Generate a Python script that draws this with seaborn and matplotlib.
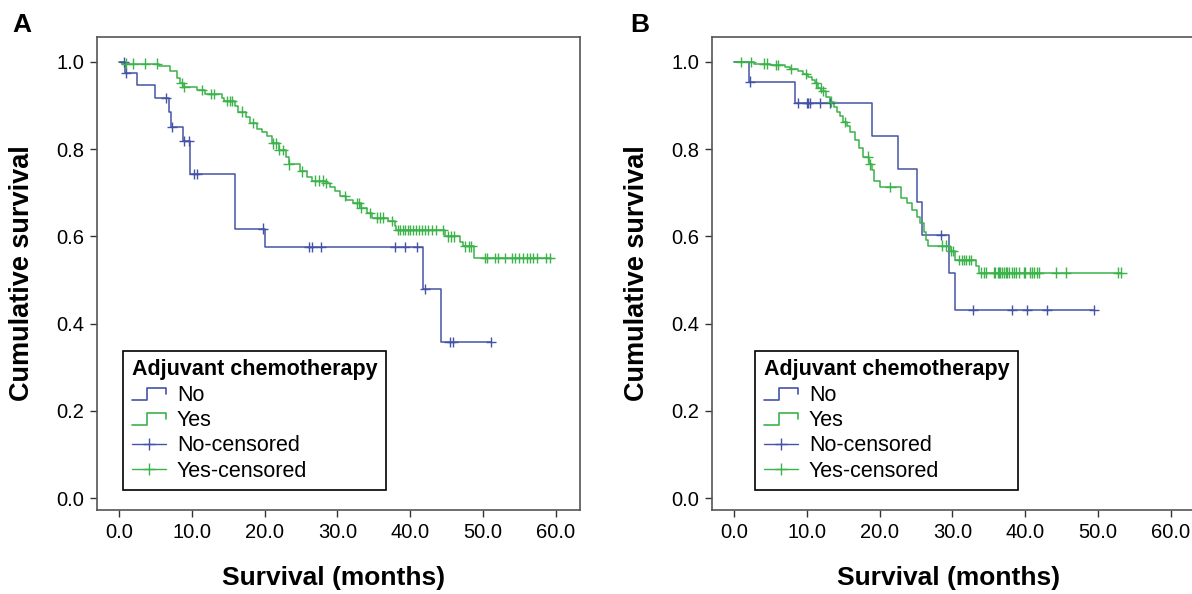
import matplotlib
matplotlib.use("Agg")

import numpy as np
import pandas as pd
import matplotlib.pyplot as plt
import seaborn as sns
from matplotlib.lines import Line2D
from matplotlib.legend_handler import HandlerBase

sns.set_style("ticks")
plt.rcParams["font.family"] = ["Liberation Sans", "DejaVu Sans"]
plt.rcParams["text.color"] = "black"
plt.rcParams["axes.labelcolor"] = "black"

# ---- panel A: event times (months) and survival after each event ----
a_no_times = [0.8, 2.5, 4.9, 6.9, 7.2, 8.8, 9.8, 16.0, 20.0, 41.7, 44.2]
a_no_surv = [0.975, 0.947, 0.917, 0.884, 0.851, 0.818, 0.743, 0.618, 0.575, 0.479, 0.358]
a_no_cens = [0.7, 1.0, 6.5, 7.3, 8.9, 9.6, 10.3, 10.7, 19.8, 26.1, 26.5, 27.7,
             37.9, 39.3, 40.9, 42.0, 45.4, 45.8, 51.1]

a_yes_times = [0.5, 5.5, 7.0, 8.0, 8.4, 8.8, 10.7, 11.8, 14.1, 14.5, 15.9, 16.4,
               17.5, 18.0, 18.9, 19.6, 20.3, 21.0, 22.0, 23.0, 23.3, 24.9, 25.8,
               26.5, 28.5, 29.0, 29.7, 30.4, 31.2, 32.2, 33.3, 34.0, 34.7, 36.9,
               37.9, 38.1, 44.8, 46.8, 47.3, 48.7]
a_yes_surv = [0.996, 0.991, 0.978, 0.963, 0.951, 0.942, 0.935, 0.927, 0.917, 0.911,
              0.899, 0.886, 0.873, 0.860, 0.846, 0.840, 0.829, 0.813, 0.798, 0.783,
              0.765, 0.749, 0.737, 0.728, 0.722, 0.714, 0.703, 0.693, 0.683, 0.676,
              0.666, 0.653, 0.643, 0.636, 0.623, 0.615, 0.600, 0.588, 0.577, 0.550]
a_yes_cens = [1.0, 2.0, 3.6, 5.2, 8.6, 9.0, 11.4, 12.7, 13.0, 14.8, 15.2, 15.5, 16.9,
              18.4, 21.2, 21.6, 22.0, 22.5, 23.3, 25.1, 26.9, 27.5, 28.0, 28.5, 31.0,
              32.7, 33.0, 33.3, 34.5, 35.4, 35.8, 36.3, 37.5, 38.3, 38.6, 39.0, 39.3,
              39.7, 40.0, 40.4, 40.8, 41.2, 41.6, 42.0, 42.5, 43.0, 43.6, 44.5, 45.2,
              45.6, 46.0, 47.5, 48.0, 48.4, 50.3, 50.5, 51.6, 52.1, 53.0, 53.9, 54.4,
              54.9, 55.5, 56.0, 56.5, 56.9, 57.4, 58.7, 59.2]

# ---- panel B ----
b_no_times = [2.1, 8.4, 18.9, 22.5, 25.1, 25.8, 29.5, 30.3]
b_no_surv = [0.955, 0.905, 0.830, 0.755, 0.680, 0.603, 0.517, 0.431]
b_no_cens = [2.2, 8.8, 10.0, 10.2, 10.4, 11.8, 13.2, 28.4, 32.8, 38.2, 40.2, 43.0, 49.4]

b_yes_times = [2.8, 4.9, 7.0, 7.7, 8.8, 9.5, 10.2, 10.7, 11.1, 11.6, 12.0, 12.7,
               13.2, 13.7, 14.1, 14.6, 15.0, 15.5, 16.0, 16.6, 17.2, 17.7, 18.6,
               18.9, 19.3, 20.0, 23.0, 23.8, 24.5, 25.1, 25.6, 26.1, 26.4, 26.7,
               29.7, 30.4, 33.2, 33.7]
b_yes_surv = [0.996, 0.993, 0.988, 0.983, 0.978, 0.972, 0.966, 0.959, 0.951, 0.940,
              0.933, 0.920, 0.909, 0.897, 0.886, 0.875, 0.863, 0.852, 0.840, 0.821,
              0.802, 0.783, 0.765, 0.752, 0.726, 0.713, 0.687, 0.676, 0.661, 0.645,
              0.630, 0.611, 0.592, 0.579, 0.566, 0.546, 0.532, 0.517]
b_yes_cens = [1.0, 2.4, 4.2, 4.5, 5.8, 6.1, 7.8, 9.9, 11.3, 11.9, 12.3, 13.4, 15.3,
              18.4, 18.7, 21.5, 28.6, 29.1, 29.8, 30.1, 30.9, 31.3, 31.6, 31.9, 32.3,
              32.6, 33.9, 34.3, 34.6, 35.7, 35.9, 36.2, 36.4, 36.6, 36.8, 37.1, 37.3,
              37.5, 37.8, 38.2, 38.4, 38.7, 39.1, 39.8, 40.0, 40.7, 40.9, 41.2, 41.6,
              41.9, 44.2, 45.6, 52.7, 53.2]

groups = ["No", "Yes"]
colors = {"No": "#4553a6", "Yes": "#3cb24a"}
x_ticks = [0, 10, 20, 30, 40, 50, 60]
y_ticks = [0.0, 0.2, 0.4, 0.6, 0.8, 1.0]


def km_frames(curves):
    lines, marks = [], []
    for g, (times, surv, cens) in curves.items():
        end = max(max(cens), max(times))
        t = np.r_[0.0, times, end]
        s = np.r_[1.0, surv, surv[-1]]
        lines.append(pd.DataFrame({"month": t, "survival": s, "group": g}))
        idx = np.searchsorted(times, cens, side="right")
        cs = np.r_[1.0, surv][idx]
        marks.append(pd.DataFrame({"month": cens, "survival": cs, "group": g}))
    return pd.concat(lines, ignore_index=True), pd.concat(marks, ignore_index=True)


class StepHandler(HandlerBase):
    def create_artists(self, legend, orig_handle, xdescent, ydescent, width, height, fontsize, trans):
        x0, y0 = -xdescent, -ydescent
        xs = [x0, x0 + 0.45 * width, x0 + 0.45 * width, x0 + width, x0 + width]
        ys = [y0 + 0.05 * height, y0 + 0.05 * height, y0 + 0.85 * height,
              y0 + 0.85 * height, y0 + 0.45 * height]
        ln = Line2D(xs, ys, color=orig_handle.get_color(), lw=1.2, transform=trans)
        return [ln]


def draw_panel(ax, curves, legend_x):
    lines, marks = km_frames(curves)
    sns.lineplot(data=lines, x="month", y="survival", hue="group", palette=colors,
                 drawstyle="steps-post", estimator=None, sort=False, lw=1.1,
                 legend=False, ax=ax)
    sns.scatterplot(data=marks, x="month", y="survival", hue="group", palette=colors,
                    marker="+", s=55, linewidth=1.0, legend=False, ax=ax, zorder=3)
    ax.set_xlim(-3.0, 63.3)
    ax.set_ylim(-0.027, 1.057)
    ax.set_xticks(x_ticks)
    ax.set_xticklabels([f"{v:.1f}" for v in x_ticks])
    ax.set_yticks(y_ticks)
    ax.set_yticklabels([f"{v:.1f}" for v in y_ticks])
    ax.tick_params(axis="both", labelsize=14.5, length=5, width=1, pad=4, colors="#333333",
                   labelcolor="black")
    for sp in ax.spines.values():
        sp.set_visible(True)
        sp.set_color("#555555")
        sp.set_linewidth(1.2)
    ax.set_xlabel("Survival (months)", fontsize=19, fontweight="bold")
    ax.set_ylabel("Cumulative survival", fontsize=19.5, fontweight="bold")
    ax.xaxis.set_label_coords(0.49, -0.118)
    ax.yaxis.set_label_coords(-0.128, 0.5)

    handles = [Line2D([], [], color=colors["No"]), Line2D([], [], color=colors["Yes"]),
               Line2D([], [], color=colors["No"], marker="+", markersize=9, lw=1),
               Line2D([], [], color=colors["Yes"], marker="+", markersize=9, lw=1)]
    labels = ["No", "Yes", "No-censored", "Yes-censored"]
    leg = ax.legend(handles, labels, title="Adjuvant chemotherapy",
                    handler_map={handles[0]: StepHandler(), handles[1]: StepHandler()},
                    loc="lower left", bbox_to_anchor=(legend_x, 0.042), borderaxespad=0,
                    fontsize=15.5, title_fontproperties={"weight": "bold", "size": 15.5},
                    frameon=True, fancybox=False, edgecolor="black", framealpha=1,
                    handlelength=1.6, handletextpad=0.5, labelspacing=0.2,
                    borderpad=0.4, alignment="left")
    leg.get_frame().set_linewidth(1.2)


fig = plt.figure(figsize=(11.92, 5.94), dpi=100)
ax_a = fig.add_axes([97 / 1192, 84 / 594, 483 / 1192, 473 / 594])
ax_b = fig.add_axes([712 / 1192, 84 / 594, 483 / 1192, 473 / 594])

draw_panel(ax_a, {"No": (a_no_times, a_no_surv, a_no_cens),
                  "Yes": (a_yes_times, a_yes_surv, a_yes_cens)}, 0.054)
draw_panel(ax_b, {"No": (b_no_times, b_no_surv, b_no_cens),
                  "Yes": (b_yes_times, b_yes_surv, b_yes_cens)}, 0.089)

fig.text(22 / 1192, 1 - 25 / 594, "A", fontsize=19, fontweight="bold", ha="center", va="center")
fig.text(640 / 1192, 1 - 25 / 594, "B", fontsize=19, fontweight="bold", ha="center", va="center")

fig.savefig("out.png", dpi=100)
plt.close(fig)
